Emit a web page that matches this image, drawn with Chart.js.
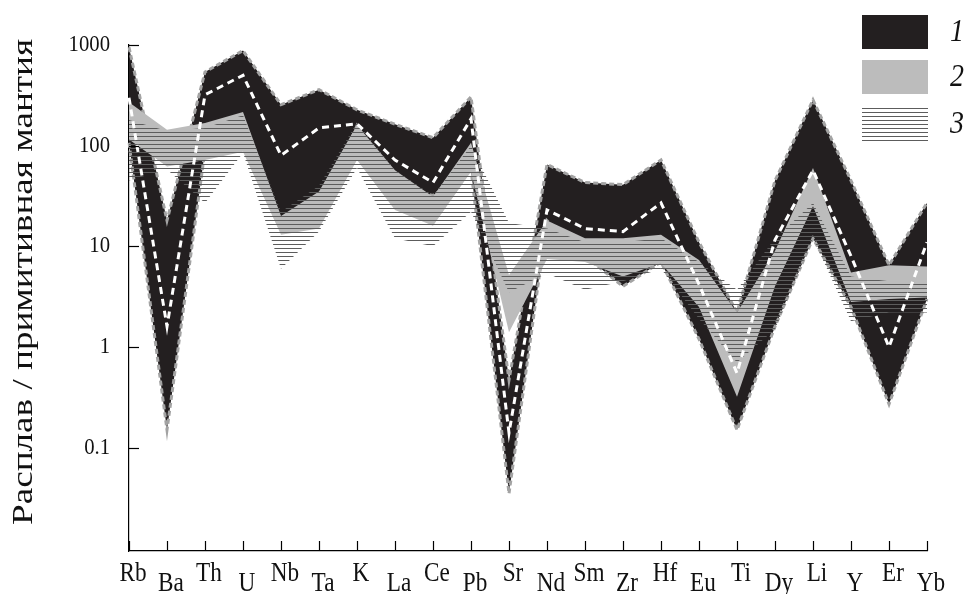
<!DOCTYPE html>
<html>
<head>
<meta charset="utf-8">
<script src="https://cdn.jsdelivr.net/npm/chart.js@4.4.1/dist/chart.umd.min.js"></script>
<style>
  html, body { margin: 0; padding: 0; background: #fff; }
  #wrap { width: 966px; height: 594px; position: relative; }
</style>
</head>
<body>
<div id="wrap"><canvas id="spider" width="966" height="594"></canvas></div>
<script>
// elements along the x axis
const elements = ['Rb','Ba','Th','U','Nb','Ta','K','La','Ce','Pb','Sr','Nd','Sm','Zr','Hf','Eu','Ti','Dy','Li','Y','Er','Yb'];

// group 1 (black band) - upper / lower envelope
const blackUpper = [950, 18, 540, 880, 255, 360, 227, 163, 120, 305, 0.47, 65, 43, 41, 72, 11, 2.2, 45, 285, 45, 6.5, 27];
const blackLower = [107, 0.15, 90, 150, 18, 20, 158, 39, 32, 58, 0.035, 18, 8, 4, 7, 1.2, 0.15, 1.6, 12, 2.5, 0.27, 3];
// white dashed line inside group 1
const blackMedian = [300, 1.6, 320, 500, 80, 150, 165, 72, 43, 185, 0.14, 23, 15, 14, 27, 4.2, 0.55, 11.6, 57, 8, 1.0, 11];

// group 2 (grey band)
const greyUpper = [270, 144, 168, 216, 20, 35, 160, 57, 31, 107, 5.2, 18, 12, 12, 13, 7.3, 2.2, 9, 60, 5.5, 6.5, 6.3];
const greyLower = [115, 62, 72, 87, 13, 15, 72, 23, 16, 55, 1.4, 7.5, 7, 5, 6.8, 2.5, 0.32, 4, 25, 2.8, 3, 3.1];

// group 3 (hatched band)
const hatchUpper = [180, 140, 150, 200, 22, 40, 170, 57, 32, 100, 17, 15, 11, 11, 12, 7, 3.7, 12, 27, 5, 4.5, 4.5];
const hatchLower = [45, 58, 27, 85, 6, 14, 60, 12, 10, 22, 3.5, 5.4, 3.7, 4.5, 6, 1.9, 0.7, 1.5, 12, 1.8, 2.2, 2.2];

const yTicks = [1000, 100, 10, 1, 0.1];
const yTickLabels = ['1000', '100', '10', '1', '0.1'];
const legendLabels = ['1', '2', '3'];
const yTitle = 'Расплав / примитивная мантия';

// horizontal line pattern for group 3
function makeHatch() {
    const pc = document.createElement('canvas');
    pc.width = 8;
    pc.height = 4;
    const p = pc.getContext('2d');
    p.fillStyle = '#5c5c5c';
    p.fillRect(0, 0, 8, 1);
    return p.createPattern(pc, 'repeat');
}
const ctx = document.getElementById('spider').getContext('2d');
const hatch = makeHatch();

const BLACK = '#231f20';
const GREY = '#bcbcbc';

// narrow serif text, drawn squeezed horizontally like the printed figure
function squeezed(c, text, x, y, sx) {
    c.save();
    c.translate(x, y);
    c.scale(sx, 1);
    c.fillText(text, 0, 0);
    c.restore();
}

const decorations = {
    id: 'decorations',
    beforeDraw(chart) {
        const c = chart.ctx;
        c.save();
        c.fillStyle = '#fff';
        c.fillRect(0, 0, chart.width, chart.height);
        c.restore();
    },
    afterDraw(chart) {
        const c = chart.ctx;
        const xs = chart.scales.x;
        const ys = chart.scales.y;
        const area = chart.chartArea;
        c.save();
        c.strokeStyle = '#000';
        c.lineWidth = 1.2;
        // inward tick marks
        yTicks.forEach(v => {
            const y = Math.round(ys.getPixelForValue(v)) + 0.5;
            c.beginPath();
            c.moveTo(area.left, y);
            c.lineTo(area.left + 10, y);
            c.stroke();
        });
        elements.forEach((el, i) => {
            const x = Math.round(xs.getPixelForTick(i)) + 0.5;
            c.beginPath();
            c.moveTo(x, area.bottom);
            c.lineTo(x, area.bottom - 10);
            c.stroke();
        });
        // y tick labels
        c.fillStyle = '#111';
        c.font = '23px "Liberation Serif"';
        c.textAlign = 'right';
        c.textBaseline = 'middle';
        yTicks.forEach((v, i) => {
            squeezed(c, yTickLabels[i], 110, ys.getPixelForValue(v), 0.9);
        });
        // staggered element labels
        c.font = '27px "Liberation Serif"';
        c.textAlign = 'center';
        c.textBaseline = 'alphabetic';
        elements.forEach((el, i) => {
            const x = xs.getPixelForTick(i) + 4;
            squeezed(c, el, x, i % 2 === 0 ? 581 : 591, 0.86);
        });
        // y title
        c.save();
        c.font = '30px "Liberation Serif"';
        const w = c.measureText(yTitle).width;
        c.translate(32, 282);
        c.rotate(-Math.PI / 2);
        c.scale(486 / w, 1);
        c.textAlign = 'center';
        c.textBaseline = 'alphabetic';
        c.fillText(yTitle, 0, 0);
        c.restore();
        // legend
        const boxes = [BLACK, GREY, hatch];
        const tops = [15, 60, 107];
        boxes.forEach((fill, i) => {
            c.fillStyle = fill;
            c.fillRect(862, tops[i], 66, 34);
            c.fillStyle = '#111';
            c.font = 'italic 31px "Liberation Serif"';
            c.textAlign = 'center';
            c.textBaseline = 'middle';
            squeezed(c, legendLabels[i], 957, tops[i] + 18, 0.9);
        });
        c.restore();
    }
};

const lineBase = { pointRadius: 0, tension: 0, borderWidth: 0 };

new Chart(ctx, {
    type: 'line',
    data: {
        labels: elements,
        datasets: [
            Object.assign({}, lineBase, { label: 'median', data: blackMedian, borderColor: '#fff', borderWidth: 3, borderDash: [7, 5], fill: false, order: 0 }),
            Object.assign({}, lineBase, { label: '3 up', data: hatchUpper, borderColor: 'rgba(0,0,0,0)', backgroundColor: hatch, fill: '+1', order: 1 }),
            Object.assign({}, lineBase, { label: '3 low', data: hatchLower, borderColor: 'rgba(0,0,0,0)', fill: false, order: 2 }),
            Object.assign({}, lineBase, { label: '2 up', data: greyUpper, borderColor: 'rgba(0,0,0,0)', backgroundColor: GREY, fill: '+1', order: 3 }),
            Object.assign({}, lineBase, { label: '2 low', data: greyLower, borderColor: 'rgba(0,0,0,0)', fill: false, order: 4 }),
            Object.assign({}, lineBase, { label: '1 up', data: blackUpper, borderColor: '#a3a3a3', borderWidth: 3, borderDash: [5, 3], backgroundColor: BLACK, fill: '+1', order: 6 }),
            Object.assign({}, lineBase, { label: '1 low', data: blackLower, borderColor: '#a3a3a3', borderWidth: 3, borderDash: [5, 3], fill: false, order: 5 })
        ]
    },
    options: {
        responsive: false,
        animation: false,
        devicePixelRatio: 1,
        layout: { padding: { top: 45, right: 39, bottom: 0, left: 0 } },
        plugins: {
            legend: { display: false },
            tooltip: { enabled: false }
        },
        scales: {
            x: {
                type: 'category',
                offset: false,
                grid: { display: false, drawTicks: false },
                border: { display: true, color: '#000', width: 1.2 },
                ticks: { display: false },
                afterFit: s => { s.height = 43; }
            },
            y: {
                type: 'logarithmic',
                min: 0.0094,
                max: 1000,
                grid: { display: false, drawTicks: false },
                border: { display: true, color: '#000', width: 1.2 },
                afterBuildTicks: s => { s.ticks = yTicks.map(v => ({ value: v })); },
                ticks: { display: false },
                afterFit: s => { s.width = 129; }
            }
        }
    },
    plugins: [decorations]
});
</script>
</body>
</html>
